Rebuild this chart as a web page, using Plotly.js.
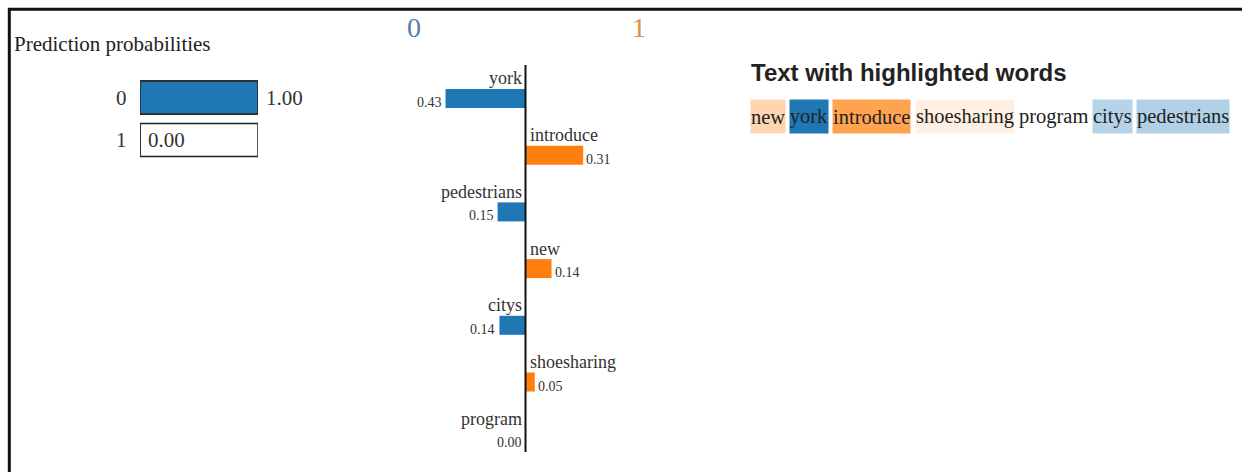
<!DOCTYPE html>
<html><head><meta charset="utf-8">
<script src="https://cdn.plot.ly/plotly-3.0.1.min.js"></script>
<style>html,body{margin:0;padding:0;background:#fff;} #chart{width:1242px;height:472px;}</style>
</head><body><div id="chart"></div>
<script>
// ---- data ----
const classNames = ['0', '1'];
const classColors = ['#1f77b4', '#ff7f0e'];
const probabilities = [1.00, 0.00];
const features = ['york', 'introduce', 'pedestrians', 'new', 'citys', 'shoesharing', 'program'];
const weights = [-0.43, 0.31, -0.15, 0.14, -0.14, 0.05, 0.00];
const textWords = ['new', 'york', 'introduce', 'shoesharing', 'program', 'citys', 'pedestrians'];
const probTitle = 'Prediction probabilities';
const textTitle = 'Text with highlighted words';

// ---- layout helpers ----
const W = 1242, H = 472;
const PX = v => v / W;
const PY = v => 1 - v / H;
const SERIF = '"Liberation Serif", "Times New Roman", serif';
const SANS = '"Liberation Sans", Arial, sans-serif';
const INK = '#333333';

// probability chart geometry
const prob = {left: 140, right: 258, top: 76.25, bottom: 161.25};
// feature chart geometry
const feat = {zeroX: 525.5, pxPerUnit: 186, left: 400, right: 660, top: 65, bottom: 452, firstRow: 98.5, step: 56.7};

const fmt = v => Math.abs(v).toFixed(2);
const sideColor = v => v > 0 ? classColors[1] : classColors[0];

const traces = [
  {type: 'bar', orientation: 'h', x: probabilities.map(() => 1), y: classNames,
   xaxis: 'x', yaxis: 'y', width: 0.776, marker: {color: '#ffffff', line: {color: '#222', width: 1.5}},
   hoverinfo: 'skip', showlegend: false},
  {type: 'bar', orientation: 'h', x: probabilities, y: classNames,
   xaxis: 'x', yaxis: 'y', width: 0.776, marker: {color: classColors, line: {color: '#222', width: 1.5}},
   hoverinfo: 'skip', showlegend: false},
  {type: 'bar', orientation: 'h', x: weights, y: features,
   xaxis: 'x2', yaxis: 'y2', width: 0.335, marker: {color: weights.map(sideColor)},
   hoverinfo: 'skip', showlegend: false}
];

const annotations = [];
// prob chart title
annotations.push({xref: 'paper', yref: 'paper', x: PX(12), y: PY(44), xanchor: 'left', yanchor: 'middle',
  text: probTitle, showarrow: false, font: {family: SERIF, size: 21, color: '#222'}});
classNames.forEach((c, i) => {
  annotations.push({xref: 'x', yref: 'y', x: 0, y: i, xanchor: 'right', yanchor: 'middle', xshift: -11,
    text: c, showarrow: false, font: {family: SERIF, size: 21, color: INK}});
  annotations.push({xref: 'x', yref: 'y', x: probabilities[i], y: i, xanchor: 'left', yanchor: 'middle', xshift: 6,
    text: probabilities[i].toFixed(2), showarrow: false, font: {family: SERIF, size: 21, color: INK}});
});
// class names above feature chart
annotations.push({xref: 'x2', yref: 'paper', x: 0, y: PY(28), xshift: -112, xanchor: 'center', yanchor: 'middle',
  text: classNames[0], showarrow: false, font: {family: SERIF, size: 28, color: '#4f80a8'}});
annotations.push({xref: 'x2', yref: 'paper', x: 0, y: PY(28), xshift: 113, xanchor: 'center', yanchor: 'middle',
  text: classNames[1], showarrow: false, font: {family: SERIF, size: 28, color: '#d99050'}});
// feature names and values
features.forEach((f, i) => {
  const v = weights[i];
  const right = v > 0;
  annotations.push({xref: 'x2', yref: 'y2', x: 0, y: i, xanchor: right ? 'left' : 'right', yanchor: 'middle',
    xshift: right ? 2 : -2, yshift: 20, text: f, showarrow: false, font: {family: SERIF, size: 18, color: INK}});
  annotations.push({xref: 'x2', yref: 'y2', x: v, y: i, xanchor: right ? 'left' : 'right', yanchor: 'middle',
    xshift: right ? 1 : -2, yshift: -4, text: fmt(v), showarrow: false, font: {family: SERIF, size: 14, color: INK}});
});
// text section
annotations.push({xref: 'paper', yref: 'paper', x: PX(749), y: PY(72), xanchor: 'left', yanchor: 'middle',
  text: '<b>' + textTitle + '</b>', showarrow: false, font: {family: SANS, size: 24, color: '#222'}});

const wordFont = 20.5;
const cv = document.createElement('canvas').getContext('2d');
cv.font = wordFont + 'px "Liberation Serif"';
const spaceW = cv.measureText(' ').width;
const maxW = Math.max(...weights.map(Math.abs));
let cursor = 750;
textWords.forEach(w => {
  const wt = weights[features.indexOf(w)];
  const a = Math.abs(wt) / maxW;
  const base = wt > 0 ? [255, 127, 14] : [31, 119, 180];
  const width = cv.measureText(w).width;
  annotations.push({xref: 'paper', yref: 'paper', x: PX(cursor), y: PY(116.5), xanchor: 'left', yanchor: 'middle',
    width: width, height: 33, borderpad: 0, valign: 'middle',
    bgcolor: a > 0 ? 'rgba(' + base.join(',') + ',' + a.toFixed(3) + ')' : 'rgba(0,0,0,0)',
    text: w, showarrow: false, font: {family: SERIF, size: wordFont, color: '#222'}});
  cursor += width + spaceW;
});

const shapes = [
  {type: 'line', xref: 'paper', yref: 'paper', x0: PX(8), x1: 1, y0: PY(9.2), y1: PY(9.2), line: {color: '#111', width: 3}},
  {type: 'line', xref: 'paper', yref: 'paper', x0: PX(9.3), x1: PX(9.3), y0: PY(8), y1: 0, line: {color: '#111', width: 3}},
  {type: 'line', xref: 'x2', yref: 'y2 domain', x0: 0, x1: 0, y0: 0, y1: 1, line: {color: '#111', width: 2}}
];

const layout = {
  width: W, height: H, margin: {l: 0, r: 0, t: 0, b: 0},
  paper_bgcolor: '#fff', plot_bgcolor: 'rgba(0,0,0,0)',
  barmode: 'overlay', showlegend: false,
  xaxis: {domain: [PX(prob.left), PX(prob.right)], range: [0, 1], visible: false, fixedrange: true},
  yaxis: {domain: [PY(prob.bottom), PY(prob.top)], type: 'category', categoryarray: classNames,
    range: [classNames.length - 0.5, -0.5], visible: false, fixedrange: true},
  xaxis2: {domain: [PX(feat.left), PX(feat.right)], anchor: 'y2',
    range: [(feat.left - feat.zeroX) / feat.pxPerUnit, (feat.right - feat.zeroX) / feat.pxPerUnit],
    visible: false, fixedrange: true},
  yaxis2: {domain: [PY(feat.bottom), PY(feat.top)], anchor: 'x2', type: 'category', categoryarray: features,
    range: [(feat.bottom - feat.firstRow) / feat.step, -(feat.firstRow - feat.top) / feat.step],
    visible: false, fixedrange: true},
  annotations: annotations,
  shapes: shapes
};

Plotly.newPlot('chart', traces, layout, {staticPlot: true, displayModeBar: false});
</script>
</body></html>
